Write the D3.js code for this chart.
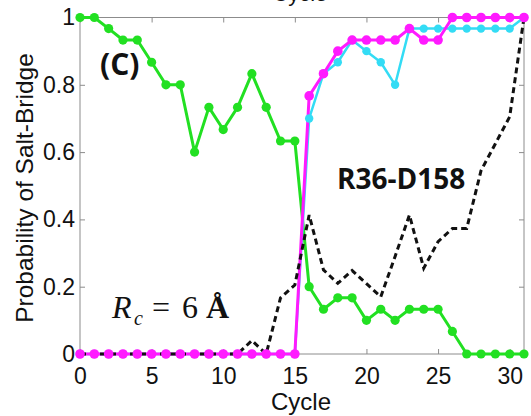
<!DOCTYPE html>
<html>
<head>
<meta charset="utf-8">
<script src="https://cdn.jsdelivr.net/npm/d3@7"></script>
<style>
  html, body { margin: 0; padding: 0; background: #fff; }
  svg { display: block; }
</style>
</head>
<body>
<svg id="chart" width="531" height="416"></svg>
<script>
// Salt-bridge formation probability per cycle
const cycles = d3.range(0, 32);
const green = [1, 1, 0.967, 0.933, 0.933, 0.867, 0.8, 0.8, 0.6, 0.733, 0.667, 0.733, 0.833, 0.733, 0.633, 0.633,
               0.2, 0.133, 0.167, 0.167, 0.1, 0.133, 0.1, 0.133, 0.133, 0.133, 0.067, 0, 0, 0, 0, 0];
const cyan = [0, 0, 0, 0, 0, 0, 0, 0, 0, 0, 0, 0, 0, 0, 0, 0,
              0.7, 0.833, 0.867, 0.933, 0.9, 0.867, 0.8, 0.967, 0.967, 0.967, 0.967, 0.967, 0.967, 0.967, 0.967, 1];
const magenta = [0, 0, 0, 0, 0, 0, 0, 0, 0, 0, 0, 0, 0, 0, 0, 0,
                 0.767, 0.833, 0.9, 0.933, 0.933, 0.933, 0.933, 0.967, 0.933, 0.933, 1, 1, 1, 1, 1, 1];
const dashed = [0, 0, 0, 0, 0, 0, 0, 0, 0, 0, 0, 0, 0.04, 0, 0.167, 0.205,
                0.413, 0.25, 0.21, 0.248, 0.209, 0.17, 0.29, 0.413, 0.255, 0.334, 0.373, 0.373, 0.545, 0.625, 0.705, 1];
const xTicks = [0, 5, 10, 15, 20, 25, 30];
const yTicks = [0, 0.2, 0.4, 0.6, 0.8, 1];
const yTickLabels = ["0", "0.2", "0.4", "0.6", "0.8", "1"];

const svg = d3.select("#chart");
const plot = { left: 80, right: 524, top: 17.5, bottom: 354 };

const x = d3.scaleLinear().domain([0, 31]).range([plot.left, plot.right]);
const y = d3.scaleLinear().domain([0, 1]).range([plot.bottom, plot.top]);

const axisColor = "#8c8c8c";
const tickFont = "'Liberation Sans', Arial, sans-serif";

// frame with inward ticks on all four sides
svg.append("rect")
  .attr("x", plot.left).attr("y", plot.top)
  .attr("width", plot.right - plot.left).attr("height", plot.bottom - plot.top)
  .attr("fill", "none").attr("stroke", axisColor).attr("stroke-width", 1);

const axes = svg.append("g").attr("font-family", tickFont);
axes.append("g").attr("transform", `translate(0,${plot.bottom})`)
  .call(d3.axisBottom(x).tickValues(xTicks).tickSizeInner(-5).tickSizeOuter(0).tickPadding(14));
axes.append("g").attr("transform", `translate(0,${plot.top})`)
  .call(d3.axisTop(x).tickValues(xTicks).tickSizeInner(-5).tickSizeOuter(0).tickFormat(""));
axes.append("g").attr("transform", `translate(${plot.left},0)`)
  .call(d3.axisLeft(y).tickValues(yTicks).tickSizeInner(-5).tickSizeOuter(0).tickPadding(5)
    .tickFormat((d, i) => yTickLabels[i]));
axes.append("g").attr("transform", `translate(${plot.right},0)`)
  .call(d3.axisRight(y).tickValues(yTicks).tickSizeInner(-5).tickSizeOuter(0).tickFormat(""));
axes.selectAll(".domain").remove();
axes.selectAll(".tick line").attr("stroke", axisColor);
axes.selectAll(".tick text").attr("fill", "#111").attr("font-size", 23);

// axis titles
svg.append("text")
  .attr("x", 301).attr("y", 410)
  .attr("text-anchor", "middle").attr("font-family", tickFont).attr("font-size", 24).attr("fill", "#111")
  .text("Cycle");
svg.append("text")
  .attr("transform", `translate(33,188) rotate(-90)`)
  .attr("text-anchor", "middle").attr("font-family", tickFont).attr("font-size", 24.5).attr("fill", "#111")
  .text("Probability of Salt-Bridge");
// x-axis title of the panel above, cut by the top edge
svg.append("text")
  .attr("x", 300).attr("y", 1)
  .attr("text-anchor", "middle").attr("font-family", tickFont).attr("font-size", 22).attr("fill", "#111")
  .text("Cycle");

const line = d3.line().x((d, i) => x(cycles[i])).y(d => y(d));

const series = [
  { values: green, color: "#22e022", width: 3, r: 4.6 },
  { values: cyan, color: "#33dcf5", width: 2.5, r: 4.2 },
  { values: magenta, color: "#ff1aff", width: 3, r: 4.8 }
];

series.forEach(s => {
  svg.append("path").datum(s.values)
    .attr("d", line).attr("fill", "none")
    .attr("stroke", s.color).attr("stroke-width", s.width).attr("stroke-linejoin", "round");
});

svg.append("path").datum(dashed)
  .attr("d", line).attr("fill", "none")
  .attr("stroke", "#111").attr("stroke-width", 3).attr("stroke-dasharray", "6,4");

series.forEach(s => {
  svg.append("g").selectAll("circle").data(s.values).join("circle")
    .attr("cx", (d, i) => x(cycles[i])).attr("cy", d => y(d))
    .attr("r", s.r).attr("fill", s.color);
});

// annotations
svg.append("text")
  .attr("x", 100).attr("y", 75)
  .attr("font-family", "'Open Sans', sans-serif").attr("font-weight", "bold").attr("font-size", 30).attr("fill", "#111")
  .text("(C)");
svg.append("text")
  .attr("x", 337).attr("y", 189)
  .attr("font-family", "'Open Sans', sans-serif").attr("font-weight", "bold").attr("font-size", 28).attr("fill", "#111")
  .text("R36-D158");

const rc = svg.append("text")
  .attr("y", 318)
  .attr("font-family", "'Liberation Serif', 'Times New Roman', serif").attr("font-size", 32).attr("fill", "#111");
rc.append("tspan").attr("x", 112).attr("font-style", "italic").text("R");
rc.append("tspan").attr("x", 134).attr("dy", 7).attr("font-style", "italic").attr("font-size", 20).text("c");
rc.append("tspan").attr("x", 152).attr("dy", -7).text("=");
rc.append("tspan").attr("x", 182).text("6");
rc.append("tspan").attr("x", 206).attr("font-weight", "bold").text("Å");
</script>
</body>
</html>
